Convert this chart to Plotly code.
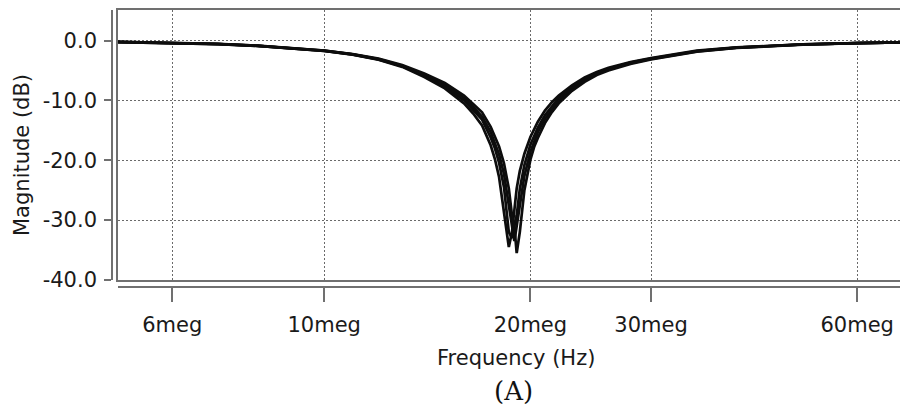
import plotly.graph_objects as go
import math

# Frequency grid (MHz)
freq_mhz = [5, 6, 7, 8, 9, 10, 11, 12, 13, 14, 15, 16, 16.5, 17, 17.5, 17.75, 18, 18.3,
            18.6, 18.8, 18.95, 19.1, 19.3, 19.6, 20, 20.25, 20.5, 21, 21.5, 22, 22.5, 23,
            24, 25, 26, 28, 30, 35, 40, 45, 50, 60, 70]

# Magnitude (dB) of the overlaid Monte-Carlo curves
mag_a = [-0.25, -0.4, -0.6, -0.9, -1.3, -1.75, -2.35, -3.2, -4.4, -6.1, -8.0, -10.5, -12.2,
         -14.2, -17.5, -19.8, -22.8, -28.9, -34.5, -32.0, -27.8, -24.7, -21.8, -18.9,
         -16.1, -14.7, -13.6, -11.7, -10.3, -9.2, -8.3, -7.5, -6.15, -5.25, -4.55, -3.6,
         -2.95, -1.7, -1.15, -0.85, -0.65, -0.42, -0.3]
mag_b = [-0.25, -0.4, -0.6, -0.9, -1.28, -1.72, -2.32, -3.15, -4.3, -5.9, -7.7, -10.0, -11.6,
         -13.2, -16.2, -18.0, -20.4, -24.5, -32.0, -33.0, -31.0, -29.2, -24.8, -20.8,
         -17.4, -15.9, -14.6, -12.5, -11.0, -9.6, -8.65, -7.8, -6.4, -5.4, -4.7, -3.7,
         -3.02, -1.75, -1.2, -0.85, -0.65, -0.42, -0.3]
mag_c = [-0.24, -0.39, -0.58, -0.88, -1.25, -1.7, -2.3, -3.1, -4.2, -5.7, -7.4, -9.6, -11.1,
         -12.7, -15.3, -17.0, -19.0, -22.3, -27.8, -31.0, -33.5, -31.0, -27.9, -22.6,
         -18.6, -16.8, -15.35, -13.1, -11.5, -10.1, -9.0, -8.1, -6.65, -5.55, -4.85, -3.8,
         -3.08, -1.8, -1.2, -0.87, -0.66, -0.43, -0.3]
mag_d = [-0.24, -0.38, -0.57, -0.86, -1.22, -1.66, -2.25, -3.0, -4.1, -5.5, -7.1, -9.2, -10.6,
         -12.0, -14.4, -16.0, -17.7, -20.5, -24.7, -29.2, -31.0, -35.5, -32.0, -25.0,
         -19.9, -17.8, -16.3, -13.8, -11.95, -10.5, -9.35, -8.4, -6.9, -5.75, -5.0, -3.9,
         -3.15, -1.85, -1.25, -0.9, -0.68, -0.44, -0.31]
curves = [mag_a, mag_b, mag_c, mag_d]

x_tickvals = [6e6, 10e6, 20e6, 30e6, 60e6]
x_ticktext = ["6meg", "10meg", "20meg", "30meg", "60meg"]
y_tickvals = [0, -10, -20, -30, -40]
y_ticktext = ["0.0", "-10.0", "-20.0", "-30.0", "-40.0"]

x_range = [math.log10(5e6), 7.8406]
y_range = [-40, 5.1]

freq_hz = [f * 1e6 for f in freq_mhz]

# layout geometry (pixels)
W, H = 900, 410
ML, MR, MT, MB = 112, 0, 10, 123
pw, ph = W - ML - MR, H - MT - MB
dx0 = 6 / pw
dy0 = 7 / ph

AX = "#707070"
GRID = "#6a6a6a"
TXT = "#1a1a1a"
FONT = "DejaVu Sans"

fig = go.Figure()
for m in curves:
    fig.add_trace(go.Scatter(x=freq_hz, y=m, mode="lines",
                             line=dict(color="#0d0d0d", width=2.7),
                             showlegend=False, hoverinfo="skip"))
# helper trace for the offset tick axes
fig.add_trace(go.Scatter(x=[], y=[], xaxis="x2", yaxis="y2", showlegend=False))

fig.update_layout(
    width=W, height=H,
    margin=dict(l=ML, r=MR, t=MT, b=MB),
    paper_bgcolor="white", plot_bgcolor="white",
    xaxis=dict(type="log", range=x_range, domain=[dx0, 1],
               tickvals=x_tickvals, showticklabels=False, ticks="",
               showgrid=True, gridcolor=GRID, griddash="2px,2px", gridwidth=1,
               showline=True, mirror=True, linecolor=AX, linewidth=1.6,
               zeroline=False),
    yaxis=dict(range=y_range, domain=[dy0, 1],
               tickvals=y_tickvals, showticklabels=False, ticks="",
               showgrid=True, gridcolor=GRID, griddash="2px,2px", gridwidth=1,
               showline=True, mirror=False, linecolor=AX, linewidth=1.6,
               zeroline=False),
    xaxis2=dict(type="log", range=x_range, overlaying="x", anchor="free", position=0,
                domain=[dx0, 1],
                tickvals=x_tickvals, ticktext=x_ticktext, ticks="outside", ticklen=14,
                tickwidth=1.6, tickcolor=AX, showline=True, linecolor=AX, linewidth=1.6,
                showgrid=False, zeroline=False, ticklabelstandoff=5,
                tickfont=dict(family=FONT, size=21, color=TXT)),
    yaxis2=dict(range=y_range, overlaying="y", anchor="free", position=0,
                domain=[dy0, 1],
                tickvals=y_tickvals, ticktext=y_ticktext, ticks="outside", ticklen=7,
                tickwidth=1.6, tickcolor=AX, showline=True, linecolor=AX, linewidth=1.6,
                showgrid=False, zeroline=False, ticklabelstandoff=3,
                tickfont=dict(family=FONT, size=21, color=TXT)),
)

def px_x(x):
    return (x - ML) / pw

def px_y(y):
    return (H - MB - y) / ph

fig.add_annotation(text="Frequency (Hz)", xref="paper", yref="paper",
                   x=px_x(516), y=px_y(358), xanchor="center", yanchor="middle",
                   showarrow=False, font=dict(family=FONT, size=21, color=TXT))
fig.add_annotation(text="Magnitude (dB)", xref="paper", yref="paper",
                   x=px_x(22), y=px_y(155), xanchor="center", yanchor="middle",
                   textangle=-90, showarrow=False,
                   font=dict(family=FONT, size=21, color=TXT))
fig.add_annotation(text="(A)", xref="paper", yref="paper",
                   x=px_x(513), y=px_y(391), xanchor="center", yanchor="middle",
                   showarrow=False, font=dict(family="DejaVu Serif", size=26, color="#111111"))

fig.write_html("out.html")
